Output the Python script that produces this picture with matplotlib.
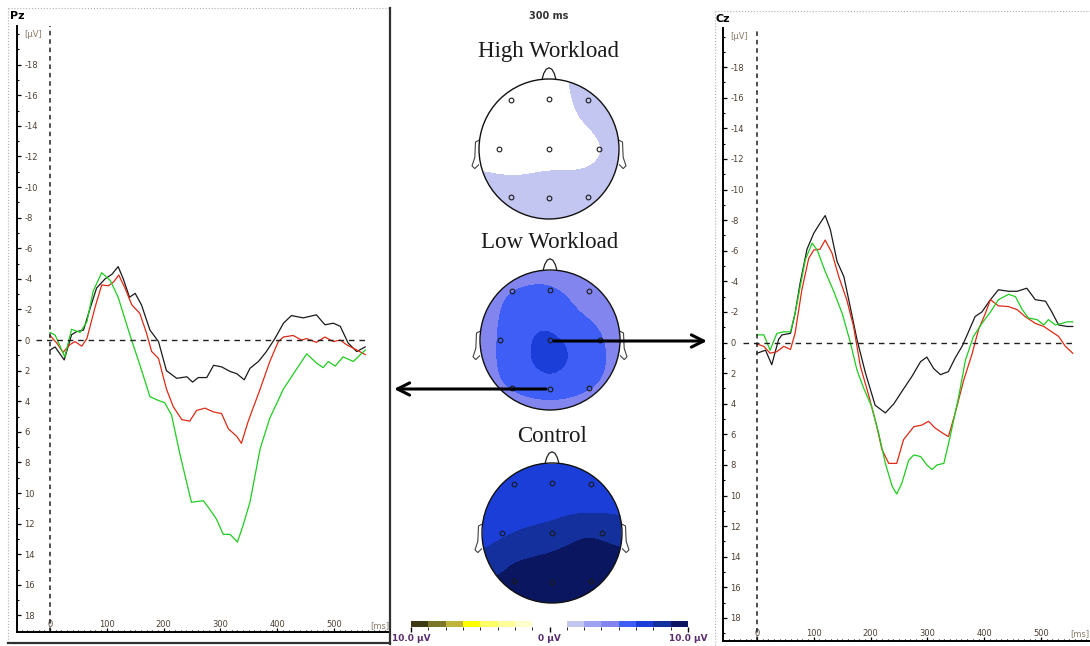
import matplotlib.pyplot as plt
import numpy as np
from matplotlib.colors import ListedColormap, BoundaryNorm
from matplotlib.cm import ScalarMappable
from matplotlib.patches import Circle, Polygon, FancyArrowPatch
from matplotlib.lines import Line2D
from matplotlib.ticker import MultipleLocator

plt.rcParams['axes.unicode_minus'] = False
plt.rcParams['font.family'] = ['DejaVu Sans']

W, H = 1090, 646

# ERP curves, time in ms, amplitude in uV (negative up)
pz_t_black = [0, 9, 25, 38, 47, 59, 70, 82, 97, 109, 120, 129, 140, 150, 161, 176, 191, 205, 223, 241,
              251, 261, 276, 288, 302, 317, 329, 342, 352, 367, 381, 396, 411, 425, 446, 469, 484, 499,
              511, 525, 540, 555]
pz_black = [0.65, 0.45, 1.3, -0.35, -0.55, -0.65, -2.0, -3.4, -4.0, -4.3, -4.8, -4.0, -2.8, -3.05, -2.3,
            -0.65, 0.1, 2.0, 2.5, 2.4, 2.75, 2.45, 2.45, 1.65, 1.75, 2.05, 2.2, 2.6, 1.85, 1.4, 0.75, -0.1,
            -1.1, -1.6, -1.45, -1.65, -1.0, -1.1, -0.9, 0.2, 0.75, 0.45]
pz_t_red = [0, 12, 23, 35, 44, 56, 65, 79, 91, 103, 112, 121, 132, 144, 158, 170, 179, 191, 205, 217,
            232, 246, 258, 273, 288, 302, 314, 329, 337, 349, 370, 387, 402, 411, 428, 443, 452, 469,
            484, 499, 511, 522, 540, 555]
pz_red = [-0.3, 0.2, 0.8, 0.3, 0.1, 0.4, -0.1, -2.1, -3.6, -3.55, -3.8, -4.25, -3.4, -2.3, -1.75, -0.45,
          0.75, 1.2, 3.2, 4.35, 5.2, 5.3, 4.6, 4.45, 4.7, 4.8, 5.8, 6.3, 6.75, 5.3, 3.2, 1.4, 0.1, -0.2,
          -0.3, 0.0, -0.1, 0.15, -0.2, 0.1, 0.0, 0.3, 0.65, 0.95]
pz_t_green = [0, 9, 26, 38, 53, 65, 76, 91, 106, 120, 141, 158, 176, 188, 202, 214, 229, 249, 270, 282,
              293, 305, 317, 330, 340, 352, 370, 387, 411, 434, 452, 469, 481, 490, 502, 516, 534, 555]
pz_green = [-0.5, -0.33, 1.1, -0.7, -0.5, -1.2, -3.2, -4.4, -3.9, -2.8, -0.3, 1.6, 3.7, 3.9, 4.1, 4.9,
            7.5, 10.6, 10.5, 11.1, 11.7, 12.7, 12.7, 13.2, 12.1, 10.6, 7.1, 5.1, 3.2, 1.9, 0.9, 1.5, 1.8,
            1.4, 1.7, 1.1, 1.4, 0.65]

cz_t_black = [0, 15, 26, 38, 44, 59, 67, 76, 88, 100, 111, 120, 129, 141, 153, 164, 176, 191, 208, 226,
              241, 255, 273, 288, 299, 311, 323, 337, 349, 361, 370, 384, 396, 411, 425, 443, 458, 475,
              490, 508, 519, 531, 546, 556]
cz_black = [0.7, 0.5, 1.45, -0.2, -0.5, -0.6, -1.9, -3.9, -6.1, -7.15, -7.8, -8.3, -7.4, -5.3, -4.3,
            -2.35, -0.2, 2.0, 4.1, 4.6, 4.0, 3.2, 2.2, 1.25, 0.95, 1.7, 2.1, 1.9, 1.0, 0.25, -0.5, -1.7,
            -2.0, -2.8, -3.45, -3.35, -3.35, -3.55, -2.8, -2.7, -2.0, -1.15, -1.05, -1.05]
cz_t_red = [0, 12, 23, 35, 47, 59, 67, 79, 91, 100, 111, 120, 132, 144, 158, 170, 182, 197, 211, 220,
            232, 246, 258, 276, 290, 302, 314, 326, 337, 349, 364, 379, 390, 402, 411, 425, 443, 458,
            472, 490, 505, 519, 531, 543, 556]
cz_red = [0.1, 0.25, 0.7, 0.6, 0.25, 0.45, -0.6, -3.45, -5.5, -6.05, -6.1, -6.7, -5.85, -4.3, -2.8,
          -1.05, 1.55, 3.5, 5.5, 7.0, 7.9, 7.9, 6.35, 5.5, 5.4, 5.15, 5.6, 5.9, 6.15, 4.6, 2.45, 0.7,
          -0.85, -1.9, -2.8, -2.4, -2.35, -2.15, -1.7, -1.25, -1.05, -0.7, -0.4, 0.25, 0.7]
cz_t_green = [0, 12, 23, 35, 47, 59, 67, 76, 85, 97, 106, 120, 135, 150, 164, 176, 188, 202, 214, 226,
              238, 246, 255, 267, 276, 288, 299, 308, 317, 329, 340, 355, 367, 381, 396, 411, 425, 443,
              455, 467, 478, 493, 505, 513, 525, 537, 546, 556]
cz_green = [-0.5, -0.5, 0.5, -0.6, -0.7, -0.7, -1.9, -3.65, -5.4, -6.5, -6.05, -4.65, -3.35, -1.9,
            -0.05, 1.8, 3.0, 4.2, 5.9, 7.9, 9.4, 9.9, 9.2, 7.7, 7.35, 7.45, 8.0, 8.3, 8.0, 7.9, 6.15,
            3.55, 1.15, -0.4, -1.25, -2.0, -2.8, -3.15, -3.0, -2.15, -1.6, -1.5, -1.15, -1.5, -1.15,
            -1.25, -1.35, -1.35]

# topographic maps at 300 ms (coarse grid, rows top->bottom, uV)
grid_x = [-1, -0.5, 0, 0.5, 1]
grid_y = [1, 0.5, 0, -0.5, -1]
high_map = [[0.5, 0.5, 0.8, 1.6, 2.0],
            [0.3, 0.4, 0.6, 1.4, 2.0],
            [0.6, 0.4, 0.5, 0.9, 1.6],
            [1.6, 1.5, 1.7, 1.6, 1.8],
            [1.8, 1.8, 1.8, 1.8, 1.8]]
low_map = [[3.85, 4.25, 4.45, 4.05, 3.85],
           [4.05, 5.45, 5.65, 4.65, 4.25],
           [4.25, 5.75, 6.35, 5.65, 4.45],
           [4.25, 5.55, 6.2, 5.55, 4.45],
           [4.05, 4.25, 4.45, 4.25, 4.05]]
control_map = [[6.55, 6.55, 6.55, 6.55, 6.55],
               [6.75, 6.85, 6.85, 6.85, 6.95],
               [7.05, 7.55, 7.95, 8.55, 8.15],
               [8.15, 8.95, 9.25, 9.45, 9.35],
               [9.65, 9.45, 9.65, 9.65, 9.65]]
el_x = [-0.55, 0, 0.55, -0.72, 0, 0.72, -0.55, 0, 0.55]
el_y = [0.7, 0.71, 0.7, 0, 0, 0, -0.68, -0.7, -0.68]

map_levels = np.linspace(-10, 10, 17)
map_colors = ['#3b3a14', '#7a7828', '#bdb63a', '#ffff00', '#ffff66', '#ffff99', '#ffffcc',
              '#ffffff', '#ffffff',
              '#c4c6f2', '#a0a2f0', '#8385ee', '#3f5ef6', '#1c3ed8', '#14309c', '#0b1660']
cmap = ListedColormap(map_colors)
norm = BoundaryNorm(map_levels, cmap.N)


def px_box(x0, y0, x1, y1):
    return [x0 / W, 1 - y1 / H, (x1 - x0) / W, (y1 - y0) / H]


def fig_line(xs, ys, **kw):
    fig.add_artist(Line2D([x / W for x in xs], [1 - y / H for y in ys],
                          transform=fig.transFigure, **kw))


def tps(r):
    with np.errstate(divide='ignore', invalid='ignore'):
        out = r ** 2 * np.log(r)
    return np.nan_to_num(out)


def smooth_map(values, n=121):
    # thin plate spline through the grid values, only used to draw smooth contours
    gx, gy = np.meshgrid(grid_x, grid_y)
    pts = np.column_stack([gx.ravel(), gy.ravel()])
    v = np.array(values, dtype=float).ravel()
    k = len(v)
    d = np.hypot(pts[:, None, 0] - pts[None, :, 0], pts[:, None, 1] - pts[None, :, 1])
    p = np.column_stack([np.ones(k), pts])
    a = np.zeros((k + 3, k + 3))
    a[:k, :k] = tps(d)
    a[:k, k:] = p
    a[k:, :k] = p.T
    coef = np.linalg.solve(a, np.concatenate([v, np.zeros(3)]))
    fx, fy = np.meshgrid(np.linspace(-1, 1, n), np.linspace(-1, 1, n))
    q = np.column_stack([fx.ravel(), fy.ravel()])
    dq = np.hypot(q[:, None, 0] - pts[None, :, 0], q[:, None, 1] - pts[None, :, 1])
    z = tps(dq) @ coef[:k] + coef[k] + coef[k + 1] * q[:, 0] + coef[k + 2] * q[:, 1]
    return fx, fy, z.reshape(fx.shape)


fig = plt.figure(figsize=(W / 100, H / 100), dpi=100)

# panel frames
fig_line([8, 390], [8, 8], color='#b0b0b0', lw=0.8, ls=':')
fig_line([8, 8], [8, 643], color='#b0b0b0', lw=0.8, ls=':')
fig_line([389.5, 389.5], [8, 644], color='#303030', lw=1.6)
fig_line([8, 390], [643, 643], color='#303030', lw=1.6)
fig_line([715, 1090], [11, 11], color='#b0b0b0', lw=0.8, ls=':')
fig_line([715, 715], [11, 646], color='#b0b0b0', lw=0.8, ls=':')


def erp_panel(box, xlim, ylim, curves, ms_x):
    ax = fig.add_axes(box)
    ax.patch.set_alpha(0)
    for t, v, c in curves:
        ax.plot(t, v, color=c, lw=0.9)
    ax.set_xlim(xlim)
    ax.set_ylim(ylim)
    ax.axvline(0, color='#202020', lw=1.1, ls=(0, (3, 2.5)))
    ax.hlines(0, -25, 555, color='#202020', lw=1.0, ls=(0, (4, 3.5)))
    for s in ['top', 'right']:
        ax.spines[s].set_visible(False)
    for s in ['left', 'bottom']:
        ax.spines[s].set_linewidth(1.4)
    ax.set_yticks(range(-18, 19, 2))
    ax.yaxis.set_minor_locator(MultipleLocator(1))
    ax.set_xticks(range(0, 501, 100))
    ax.xaxis.set_minor_locator(MultipleLocator(10))
    ax.tick_params(axis='y', which='both', direction='in', pad=-5.2, labelsize=6,
                   labelcolor='#4d4033')
    ax.tick_params(axis='x', which='both', direction='in', pad=-2.2, labelsize=6,
                   labelcolor='#4d4033')
    ax.tick_params(which='major', length=3, width=0.9)
    ax.tick_params(which='minor', length=1.5, width=0.8)
    plt.setp(ax.get_yticklabels(), ha='left')
    plt.setp(ax.get_xticklabels(), va='bottom')
    ax.annotate('[µV]', xy=(0, -20), xycoords=('axes fraction', 'data'), xytext=(5, 0),
                textcoords='offset points', ha='left', va='center', fontsize=6, color='#8a7a6a')
    ax.annotate('[ms]', xy=(ms_x, 0), xycoords=('data', 'axes fraction'), xytext=(0, 1.6),
                textcoords='offset points', ha='left', va='bottom', fontsize=6, color='#8a7a6a')
    return ax


erp_panel(px_box(17, 26.4, 388, 632), ((17 - 50) / 0.568, (388 - 50) / 0.568), (19.08, -20.5),
          [(pz_t_black, pz_black, '#1a1a1a'), (pz_t_red, pz_red, '#dd2a14'),
           (pz_t_green, pz_green, '#1fcc1f')], 563)
erp_panel(px_box(723, 28, 1090, 640.7), ((723 - 757) / 0.568, (1090 - 757) / 0.568), (19.49, -20.56),
          [(cz_t_black, cz_black, '#1a1a1a'), (cz_t_red, cz_red, '#dd2a14'),
           (cz_t_green, cz_green, '#1fcc1f')], 552)

fig.text(10 / W, 1 - 16 / H, 'Pz', fontsize=8, fontweight='bold', ha='left', va='center')
fig.text(716 / W, 1 - 19 / H, 'Cz', fontsize=8, fontweight='bold', ha='left', va='center')
fig.text(549 / W, 1 - 16 / H, '300 ms', fontsize=7, fontweight='bold', color='#333333',
         ha='center', va='center')


def head(cx, cy, values, title):
    ax = fig.add_axes(px_box(cx - 91, cy - 91, cx + 91, cy + 91))
    ax.set_xlim(-1.3, 1.3)
    ax.set_ylim(-1.3, 1.3)
    ax.set_aspect('equal')
    ax.axis('off')
    fx, fy, z = smooth_map(values)
    cs = ax.contourf(fx, fy, np.clip(z, -9.99, 9.99), levels=map_levels, cmap=cmap, norm=norm)
    cs.set_clip_path(Circle((0, 0), 1, transform=ax.transData))
    nose = [(-0.1, 0.99), (-0.075, 1.08), (-0.04, 1.14), (0, 1.16), (0.04, 1.14), (0.075, 1.08),
            (0.1, 0.99)]
    ax.add_patch(Polygon(nose, closed=False, fc='white', ec='#202020', lw=0.9))
    for sx in [-1, 1]:
        ear = [(sx * 0.99, 0.13), (sx * 1.05, 0.1), (sx * 1.06, -0.12), (sx * 1.1, -0.24),
               (sx * 1.06, -0.28), (sx * 1.0, -0.22)]
        ax.add_patch(Polygon(ear, closed=False, fc='white', ec='#404040', lw=0.8))
    ax.add_patch(Circle((0, 0), 1, fill=False, ec='#111111', lw=1.0))
    ax.plot(el_x, el_y, 'o', ms=3.4, mfc='none', mec='#1a1a1a', mew=0.8)
    fig.text(cx / W, 1 - (cy - 97) / H, title, fontsize=16.5, family='Liberation Serif',
             color='#1a1a1a', ha='center', va='center')


head(549, 149, high_map, 'High Workload')
head(550, 340, low_map, 'Low Workload')
head(552, 533, control_map, 'Control')

# colour scale
cax = fig.add_axes(px_box(411, 621, 688, 627))
cb = fig.colorbar(ScalarMappable(norm=norm, cmap=cmap), cax=cax, orientation='horizontal',
                  ticks=[-10, 0, 10])
cb.outline.set_visible(False)
cb.set_ticklabels(['10.0 µV', '0 µV', '10.0 µV'])
cax.tick_params(length=3.5, width=1, labelsize=6.5, labelcolor='#5a2d6e', pad=1.5)
plt.setp(cax.get_xticklabels(), fontweight='bold')

# arrows from electrodes to waveform panels
fig.add_artist(FancyArrowPatch((554 / W, 1 - 341 / H), (707 / W, 1 - 341 / H),
                               transform=fig.transFigure, arrowstyle='->', mutation_scale=22,
                               lw=2.2, color='black', shrinkA=0, shrinkB=0))
fig.add_artist(FancyArrowPatch((546 / W, 1 - 389 / H), (394 / W, 1 - 389 / H),
                               transform=fig.transFigure, arrowstyle='->', mutation_scale=22,
                               lw=2.2, color='black', shrinkA=0, shrinkB=0))

fig.savefig('out.png', dpi=100)
